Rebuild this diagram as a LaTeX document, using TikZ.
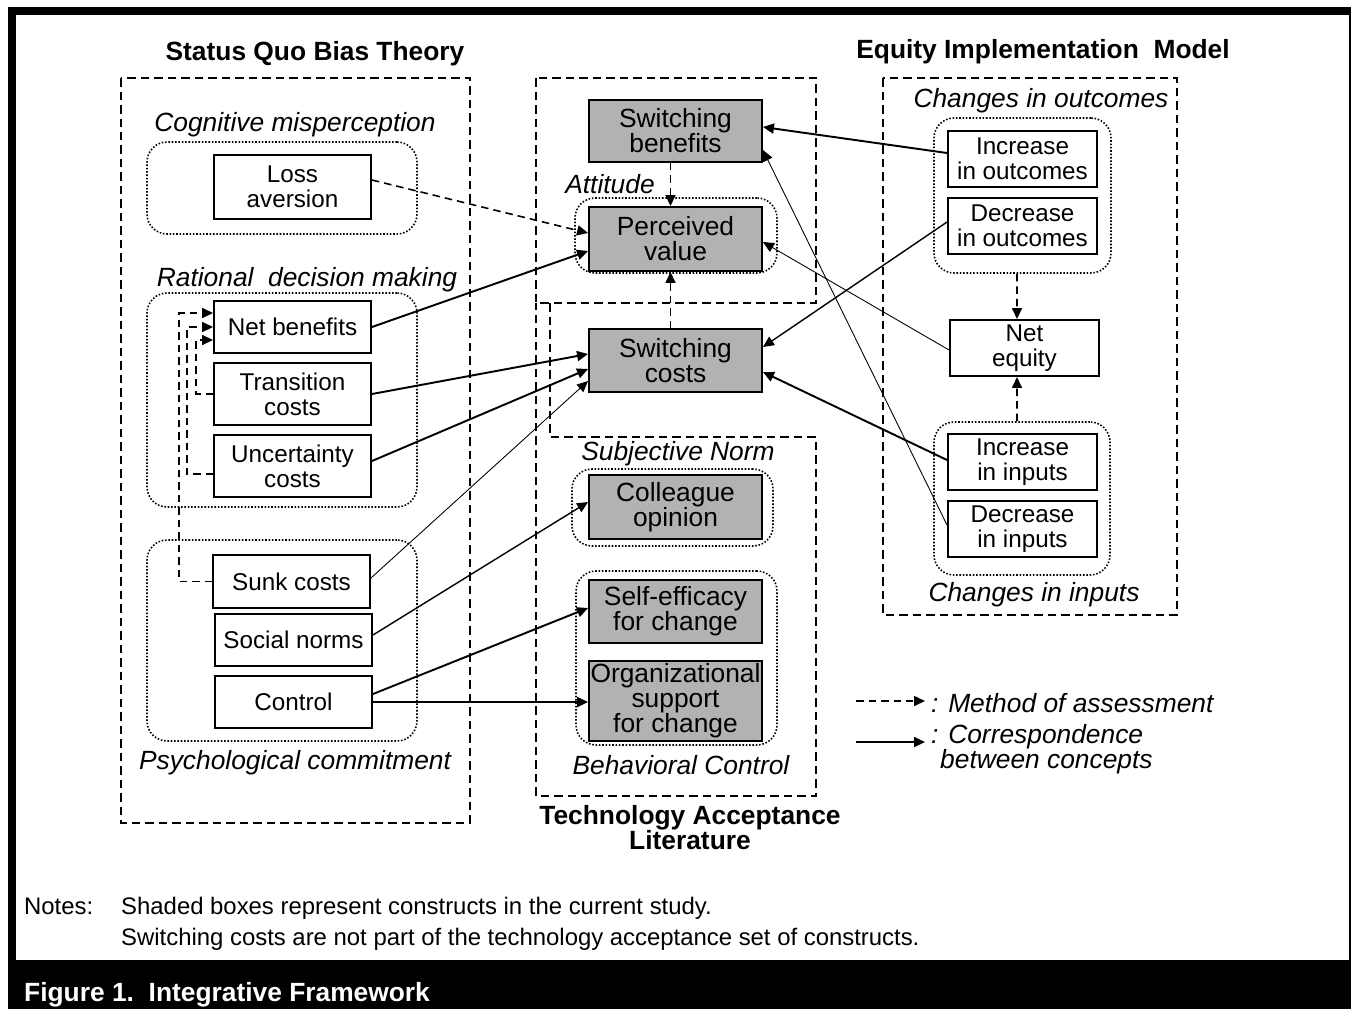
\documentclass[tikz,border=0pt]{standalone}
\usepackage{fontspec}
\setmainfont{Liberation Sans}
\usetikzlibrary{arrows.meta}

\begin{document}
\begin{tikzpicture}[x=0.02cm, y=-0.02cm,
  >={Triangle[length=0.22cm,width=0.2cm]},
  box/.style={draw, line width=1.1pt, inner sep=0pt, align=center, font=\fontsize{13.8}{14.2}\selectfont},
  shaded/.style={box, fill=black!30, font=\fontsize{15}{14.2}\selectfont},
  grp/.style={draw, densely dotted, line width=0.9pt, rounded corners=0.4cm},
  area/.style={line width=0.8pt, dash pattern=on 0.17cm off 0.1cm},
  lbl/.style={font=\fontsize{15}{14.2}\selectfont\itshape},
  ttl/.style={font=\fontsize{15}{14.2}\selectfont\bfseries, align=center},
  corr/.style={->, line width=1.1pt},
  mid/.style={->, line width=0.8pt},
  weak/.style={->, line width=0.5pt},
  assess/.style={->, line width=0.9pt, dash pattern=on 0.15cm off 0.1cm}]
			\useasboundingbox (0,0) rectangle (1353,1009);
			%frame and caption bar
			\fill (8,7) rectangle (1351,1009);
			\fill[white] (16,15) rectangle (1349,960);
			\node[anchor=base west, text=white, font=\fontsize{15}{18}\selectfont\bfseries] (caption) at (18,1001) {Figure 1.\ \ Integrative Framework};
			%notes
			\node[anchor=base west, font=\fontsize{13.6}{16}\selectfont] (notes) at (18,914) {Notes:};
			\node[anchor=base west, font=\fontsize{13.6}{16}\selectfont] (note1) at (115,914) {Shaded boxes represent constructs in the current study.};
			\node[anchor=base west, font=\fontsize{13.6}{16}\selectfont] (note2) at (115,945) {Switching costs are not part of the technology acceptance set of constructs.};
			%titles
			\node[ttl] (sqbt) at (315,54) {Status Quo Bias Theory};
			\node[ttl] (eim) at (1043,52) {Equity Implementation\ \ Model};
			\node[ttl] (tam) at (690,828) {Technology Acceptance\\Literature};
			%dashed areas
			\draw[area] (121,78) rectangle (470,823);
			\draw[area] (536,78) rectangle (816,303);
			\draw[area] (550,303) -- (550,437) -- (816,437) -- (816,796) -- (536,796) -- (536,303);
			\draw[area] (883,78) rectangle (1177,615);
			%dotted groups
			\node[grp, minimum width=5.4cm, minimum height=1.84cm] (coggrp) at (282,188) {};
			\node[grp, minimum width=5.4cm, minimum height=4.28cm] (ratgrp) at (282,400) {};
			\node[grp, minimum width=5.4cm, minimum height=4.02cm] (psygrp) at (282,640.5) {};
			\node[grp, minimum width=4.04cm, minimum height=1.5cm] (attgrp) at (676,235.5) {};
			\node[grp, minimum width=4.02cm, minimum height=1.54cm] (sngrp) at (672.5,507.5) {};
			\node[grp, minimum width=4.02cm, minimum height=3.48cm] (bcgrp) at (676.5,658) {};
			\node[grp, minimum width=3.54cm, minimum height=3.1cm] (outgrp) at (1022.5,195.5) {};
			\node[grp, minimum width=3.52cm, minimum height=3.06cm] (ingrp) at (1022,498.5) {};
			%group labels
			\node[lbl] (cogl) at (295,125) {Cognitive misperception};
			\node[lbl] (ratl) at (307,280) {Rational\ \ decision making};
			\node[lbl] (psyl) at (295,763) {Psychological commitment};
			\node[lbl] (attl) at (610,184) {Attitude};
			\node[lbl] (snl) at (678,454) {Subjective Norm};
			\node[lbl] (bcl) at (681,765) {Behavioral Control};
			\node[lbl] (outl) at (1041,101) {Changes in outcomes};
			\node[lbl] (inl) at (1034,595) {Changes in inputs};
			%status quo bias boxes
			\node[box, minimum width=3.14cm, minimum height=1.28cm] (loss) at (292.5,187) {Loss\\aversion};
			\node[box, minimum width=3.14cm, minimum height=1.04cm] (netben) at (292.5,327) {Net benefits};
			\node[box, minimum width=3.14cm, minimum height=1.24cm] (trans) at (292.5,394) {Transition\\costs};
			\node[box, minimum width=3.14cm, minimum height=1.24cm] (uncert) at (292.5,466) {Uncertainty\\costs};
			\node[box, minimum width=3.14cm, minimum height=1.06cm] (sunk) at (291.5,581.5) {Sunk costs};
			\node[box, minimum width=3.14cm, minimum height=1.04cm] (social) at (293.5,640) {Social norms};
			\node[box, minimum width=3.14cm, minimum height=1.04cm] (control) at (293.5,702) {Control};
			%technology acceptance boxes
			\node[shaded, minimum width=3.46cm, minimum height=1.24cm] (swben) at (675.5,131) {Switching\\benefits};
			\node[shaded, minimum width=3.46cm, minimum height=1.28cm] (perval) at (675.5,239) {Perceived\\value};
			\node[shaded, minimum width=3.46cm, minimum height=1.26cm] (swcost) at (675.5,360.5) {Switching\\costs};
			\node[shaded, minimum width=3.46cm, minimum height=1.28cm] (colleague) at (675.5,507) {Colleague\\opinion};
			\node[shaded, minimum width=3.46cm, minimum height=1.26cm] (selfeff) at (675.5,611.5) {Self-efficacy\\for change};
			\node[shaded, minimum width=3.46cm, minimum height=1.6cm] (orgsup) at (675.5,701) {Organizational\\support\\for change};
			%equity boxes
			\node[box, minimum width=2.98cm, minimum height=1.12cm] (incout) at (1022.5,159) {Increase\\in outcomes};
			\node[box, minimum width=2.98cm, minimum height=1.12cm] (decout) at (1022.5,226) {Decrease\\in outcomes};
			\node[box, minimum width=2.98cm, minimum height=1.12cm] (neteq) at (1024.5,348) {Net\\equity};
			\node[box, minimum width=2.98cm, minimum height=1.12cm] (incin) at (1022.5,462) {Increase\\in inputs};
			\node[box, minimum width=2.98cm, minimum height=1.12cm] (decin) at (1022.5,529) {Decrease\\in inputs};
			%method of assessment
			\draw[assess] ([xshift=-0.1cm]swben.south) -- ([xshift=-0.1cm]perval.north);
			\draw[assess] ([xshift=-0.1cm]swcost.north) -- ([xshift=-0.1cm]perval.south);
			\draw[assess] ([xshift=-0.11cm]outgrp.south) -- ([xshift=-0.15cm]neteq.north);
			\draw[assess] ([xshift=-0.1cm]ingrp.north) -- ([xshift=-0.15cm]neteq.south);
			\draw[assess] ([yshift=0.14cm]loss.east) -- ([yshift=0.12cm]perval.west);
			\draw[assess] (sunk.west) -- ++(-33,0) |- ([yshift=0.28cm]netben.west);
			\draw[assess] ([yshift=-0.16cm]uncert.west) -- ++(-26,0) |- (netben.west);
			\draw[assess] (trans.west) -- ++(-17,0) |- ([yshift=-0.26cm]netben.west);
			%correspondence between concepts
			\draw[corr] (netben.east) -- ([yshift=-0.24cm]perval.west);
			\draw[corr] (trans.east) -- ([yshift=0.13cm]swcost.west);
			\draw[corr] ([yshift=0.1cm]uncert.east) -- ([yshift=-0.17cm]swcost.west);
			\draw[weak] ([yshift=0.07cm]sunk.east) -- ([yshift=-0.41cm]swcost.west);
			\draw[mid] ([yshift=0.1cm]social.east) -- ([yshift=0.1cm]colleague.west);
			\draw[corr] ([yshift=0.16cm]control.east) -- ([yshift=0.07cm]selfeff.west);
			\draw[corr] (control.east) -- (control.east -| orgsup.west);
			\draw[corr] ([yshift=0.12cm]incout.west) -- ([yshift=0.08cm]swben.east);
			\draw[weak] ([yshift=0.08cm]decin.west) -- ([yshift=-0.38cm]swben.east);
			\draw[weak] ([yshift=-0.04cm]neteq.west) -- ([yshift=-0.06cm]perval.east);
			\draw[mid] ([yshift=0.08cm]decout.west) -- ([yshift=0.27cm]swcost.east);
			\draw[corr] ([yshift=0.04cm]incin.west) -- ([yshift=-0.23cm]swcost.east);
			%legend
			\coordinate (mstart) at (856,701);
			\coordinate (cstart) at (856,742);
			\node[lbl, anchor=west] (mlbl) at (925,703) {: Method of assessment};
			\node[lbl, anchor=west, align=left] (clbl) at (925,749) {: Correspondence\\\hspace*{0.18cm}between concepts};
			\draw[assess] (mstart) -- (mstart -| mlbl.west);
			\draw[corr] (cstart) -- (cstart -| clbl.west);
		\end{tikzpicture}
\end{document}
